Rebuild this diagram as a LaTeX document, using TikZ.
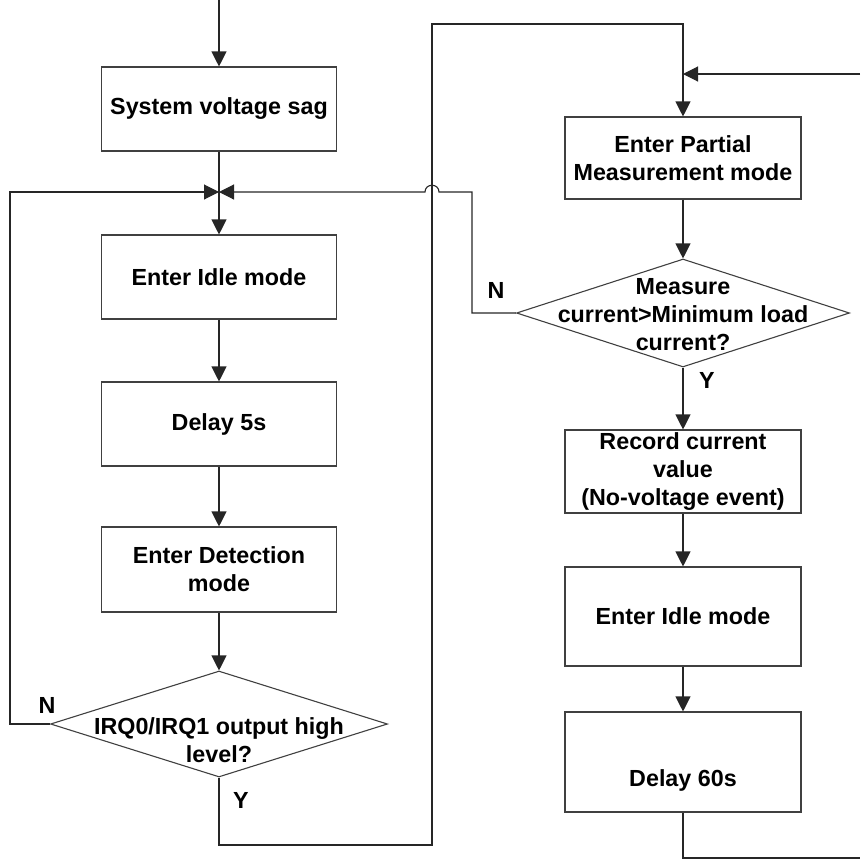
\documentclass[tikz,border=0pt]{standalone}
\usepackage{fontspec}
\setmainfont{Liberation Sans}
\usetikzlibrary{shapes.geometric,arrows.meta}
\begin{document}
\begin{tikzpicture}[x=1pt,y=-1pt,
  font=\fontsize{23.3}{28}\selectfont\bfseries,
  line width=1.1pt,
  box/.style={draw=black!75,rectangle,minimum width=235pt,inner sep=0pt,align=center},
  dia/.style={draw=black!75,diamond,inner sep=0pt},
  txt/.style={align=center,inner sep=0pt},
  lbl/.style={inner sep=0pt},
  arr/.style={draw=black!85,-{Triangle[length=15pt,width=15pt]}},
  ln/.style={draw=black!85}]
\useasboundingbox (0,0) rectangle (860,860);
% left column
\node[box,minimum height=84pt] (sys) at (219,109) {System voltage sag};
\node[box,minimum height=84pt] (idle1) at (219,277) {Enter Idle mode};
\node[box,minimum height=84pt] (delay5) at (219,424) {Delay 5s};
\node[box,minimum height=85pt] (detect) at (219,569.5) {Enter Detection\\mode};
\node[dia,minimum width=337pt,minimum height=106pt] (d1) at (219,724) {};
\node[txt] (d1t) at (219,740) {IRQ0/IRQ1 output high\\level?};
% right column
\node[box,minimum width=236pt,minimum height=82pt] (partial) at (683,158) {Enter Partial\\Measurement mode};
\node[dia,minimum width=333pt,minimum height=108pt] (d2) at (683,313) {};
\node[txt] (d2t) at (683,315) {Measure\\current>Minimum load\\current?};
\node[box,minimum width=236pt,minimum height=83pt] (record) at (683,471.5) {Record current\\value\\(No-voltage event)};
\node[box,minimum width=236pt,minimum height=99pt] (idle2) at (683,616.5) {Enter Idle mode};
\node[box,minimum width=236pt,minimum height=100pt,label={[lbl,yshift=-18pt]center:Delay 60s}] (delay60) at (683,762) {};
% coordinates
\coordinate (top) at (219,0);
\coordinate (J) at (219,192);
\coordinate (E1) at (860,858);
\coordinate (E2) at (860,74);
\coordinate (K) at (683,74);
% labels
\node[lbl] (n1) at (47,705) {N};
\node[lbl] (y1) at (241,800) {Y};
\node[lbl] (n2) at (496,290) {N};
\node[lbl] (y2) at (707,380) {Y};
% left connectors
\draw[arr] (top) -- (sys.north);
\draw[ln] (sys.south) -- (J);
\draw[arr] (J) -- (idle1.north);
\draw[arr] (idle1) -- (delay5);
\draw[arr] (delay5) -- (detect);
\draw[arr] (detect) -- (d1.north);
\draw[arr] (d1.west) -- (10,724) -- (10,192) -- (J);
\draw[ln] (d1.south) -- (219,845) -- (432,845) -- (432,24) -- (683,24) -- (K);
\draw[arr] (K) -- (partial.north);
% right connectors
\draw[arr] (E2) -- (K);
\draw[arr] (partial) -- (d2.north);
\draw[arr] (d2.south) -- (record.north);
\draw[arr] (record) -- (idle2);
\draw[arr] (idle2) -- (delay60);
\draw[ln] (delay60.south) -- (683,858) -- (E1);
\draw[arr] (d2.west) -- (472,313) -- (472,192) -- (439,192)
   .. controls (439,183) and (425,183) .. (425,192) -- (J);
\end{tikzpicture}
\end{document}
